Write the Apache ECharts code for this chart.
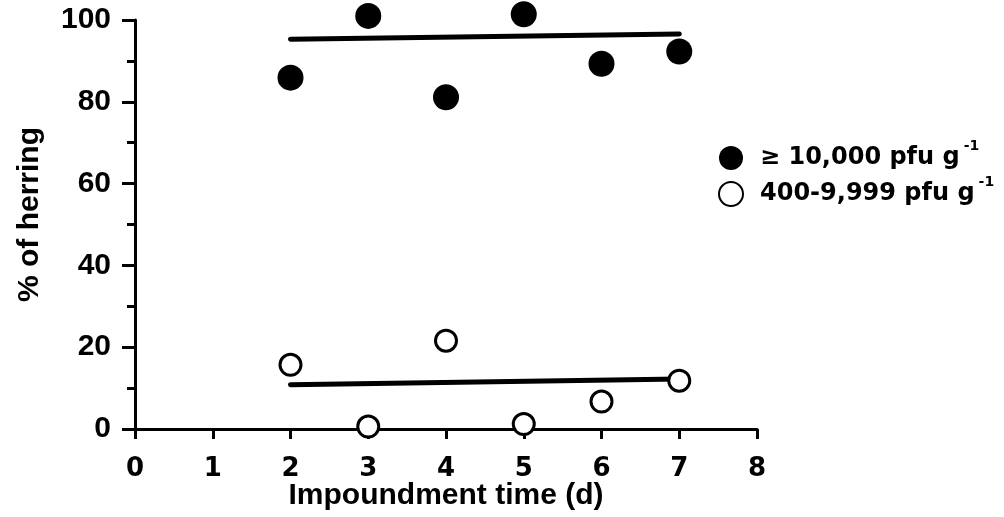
<!DOCTYPE html>
<html>
<head>
<meta charset="utf-8">
<script src="https://cdn.jsdelivr.net/npm/echarts@6/dist/echarts.min.js"></script>
<style>
  html, body { margin: 0; padding: 0; background: #fff; }
  #chart { width: 1004px; height: 517px; }
</style>
</head>
<body>
<div id="chart"></div>
<script>
// impoundment days
const days = [2, 3, 4, 5, 6, 7];
// % of herring, >= 10,000 pfu/g
const highTiter = [85.9, 101.0, 81.1, 101.4, 89.3, 92.3];
// % of herring, 400-9,999 pfu/g
const lowTiter = [15.7, 0.6, 21.6, 1.2, 6.7, 11.8];
// fitted lines, [x, y] at both ends
const highFit = [[2, 95.3], [7, 96.6]];
const lowFit = [[2, 10.8], [7, 12.2]];

const xTicks = [0, 1, 2, 3, 4, 5, 6, 7, 8];
const yTicks = [0, 20, 40, 60, 80, 100];

const font = '"Liberation Sans", Arial, Helvetica, sans-serif';
const wide = '"DejaVu Sans", Verdana, sans-serif';

const pair = (xs, ys) => xs.map((x, i) => [x, ys[i]]);

const chart = echarts.init(document.getElementById('chart'));

const option = {
  backgroundColor: '#fff',
  animation: false,
  grid: {
    left: 135,
    right: 247,
    top: 20,
    bottom: 88,
    outerBoundsMode: 'none'
  },
  legend: {
    orient: 'vertical',
    left: 713,
    top: 134,
    itemWidth: 24,
    itemHeight: 24,
    itemGap: 5,
    data: ['high', 'low'],
    textStyle: {
      color: '#000',
      fontFamily: wide,
      fontSize: 24,
      padding: [0, 0, 0, 12],
      rich: {
        t: { fontFamily: wide, fontSize: 24, fontWeight: 'bold', color: '#000', lineHeight: 38, verticalAlign: 'middle' },
        s: { fontFamily: wide, fontSize: 14, fontWeight: 'bold', color: '#000', lineHeight: 14, verticalAlign: 'top', padding: [0, 0, 0, 4] }
      }
    },
    formatter: (name) => {
      if(name === 'high'){
        return '{t|≥ 10,000 pfu g}{s|-1}';
      }
      return '{t|400-9,999 pfu g}{s|-1}';
    }
  },
  xAxis: {
    type: 'value',
    min: 0,
    max: 8,
    interval: 1,
    name: 'Impoundment time (d)',
    nameLocation: 'middle',
    nameGap: 52,
    nameMoveOverlap: false,
    nameTextStyle: { color: '#000', fontFamily: font, fontSize: 30, fontWeight: 'bold' },
    axisLine: { onZero: false, lineStyle: { color: '#000', width: 3 } },
    axisTick: { show: true, length: 10, lineStyle: { color: '#000', width: 3 } },
    axisLabel: {
      color: '#000',
      fontFamily: wide,
      fontSize: 26,
      fontWeight: 'bold',
      margin: 27,
      formatter: (v) => xTicks.includes(v) ? String(v) : ''
    },
    splitLine: { show: false }
  },
  yAxis: {
    type: 'value',
    min: 0,
    max: 100,
    interval: 20,
    name: '% of herring',
    nameLocation: 'middle',
    nameGap: 90,
    nameMoveOverlap: false,
    nameTextStyle: { color: '#000', fontFamily: font, fontSize: 30, fontWeight: 'bold', padding: [0, 0, 0, 20] },
    axisLine: { onZero: false, lineStyle: { color: '#000', width: 3 } },
    axisTick: { show: true, length: 13, lineStyle: { color: '#000', width: 3 } },
    minorTick: { show: true, splitNumber: 2, length: 8, lineStyle: { color: '#000', width: 3 } },
    axisLabel: {
      color: '#000',
      fontFamily: font,
      fontSize: 30,
      fontWeight: 'bold',
      margin: 24,
      padding: [8, 0, 0, 0],
      formatter: (v) => yTicks.includes(v) ? String(v) : ''
    },
    splitLine: { show: false }
  },
  series: [
    {
      name: 'highFit',
      type: 'line',
      data: highFit,
      symbol: 'none',
      lineStyle: { color: '#000', width: 5, cap: 'round' },
      z: 2
    },
    {
      name: 'lowFit',
      type: 'line',
      data: lowFit,
      symbol: 'none',
      lineStyle: { color: '#000', width: 5, cap: 'round' },
      z: 2
    },
    {
      name: 'high',
      type: 'scatter',
      data: pair(days, highTiter),
      clip: false,
      symbol: 'circle',
      symbolSize: 26,
      itemStyle: { color: '#000', opacity: 1 },
      z: 3
    },
    {
      name: 'low',
      type: 'scatter',
      data: pair(days, lowTiter),
      clip: false,
      symbol: 'circle',
      symbolSize: 21,
      itemStyle: { color: '#fff', borderColor: '#000', borderWidth: 3, opacity: 1 },
      z: 3
    }
  ]
};

chart.setOption(option);
</script>
</body>
</html>
